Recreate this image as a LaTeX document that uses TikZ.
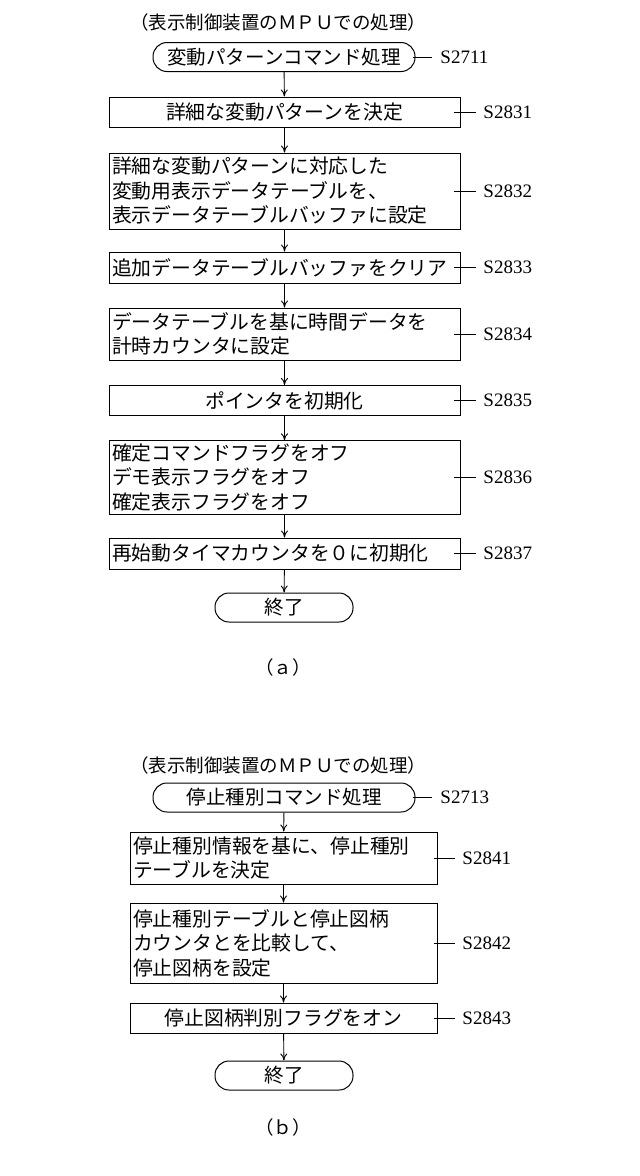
\documentclass[tikz,border=0pt]{standalone}
\usepackage{fontspec}
\setmainfont{Liberation Serif}
\newfontfamily\jfont{Noto Sans CJK JP}
\usetikzlibrary{arrows.meta}
\tikzstyle{terminal} = [rectangle, rounded corners=14pt,
minimum width=262pt,
minimum height=29pt,
inner sep=0pt,
draw=black, line width=1pt,
font=\jfont\fontsize{19.5pt}{24pt}\selectfont]
\tikzstyle{process} = [rectangle,
minimum width=351pt,
text width=345pt,
inner sep=3pt,
align=left,
draw=black, line width=1pt,
font=\jfont\fontsize{19.8pt}{24.5pt}\selectfont]
\tikzstyle{stepname} = [anchor=west, inner sep=0pt, font=\fontsize{19pt}{20pt}\selectfont]
\tikzstyle{caption} = [inner sep=0pt, font=\jfont\fontsize{18.5pt}{20pt}\selectfont]
\tikzstyle{arrow} = [line width=0.9pt, -{To[length=7pt,width=7pt]}]

\begin{document}
\begin{tikzpicture}[x=1pt,y=-1pt, line width=0.9pt]
\useasboundingbox (0,0) rectangle (640,1176);

% (a)
\node (tta) [caption] at (278,22) {（表示制御装置のＭＰＵでの処理）};
\node (sa) [terminal] at (284,57) {変動パターンコマンド処理};
\node (p1) [process, minimum height=30pt, align=center] at (284.5,112) {詳細な変動パターンを決定};
\node (p2) [process, minimum height=76pt] at (284.5,191) {詳細な変動パターンに対応した\\変動用表示データテーブルを、\\表示データテーブルバッファに設定};
\node (p3) [process, minimum height=31pt] at (284.5,267.5) {追加データテーブルバッファをクリア};
\node (p4) [process, minimum height=52pt] at (284.5,334) {データテーブルを基に時間データを\\計時カウンタに設定};
\node (p5) [process, minimum height=30pt, align=center] at (284.5,400.5) {ポインタを初期化};
\node (p6) [process, minimum height=73pt] at (284.5,477.5) {確定コマンドフラグをオフ\\デモ表示フラグをオフ\\確定表示フラグをオフ};
\node (p7) [process, minimum height=31pt] at (284.5,553.5) {再始動タイマカウンタを０に初期化};
\node (ea) [terminal, minimum width=138pt] at (284,607.5) {終了};
\node (capa) [caption] at (283,667) {（ａ）};

\draw[arrow] (sa) -- (p1);
\draw[arrow] (p1) -- (p2);
\draw[arrow] (p2) -- (p3);
\draw[arrow] (p3) -- (p4);
\draw[arrow] (p4) -- (p5);
\draw[arrow] (p5) -- (p6);
\draw[arrow] (p6) -- (p7);
\draw[arrow] (p7) -- (ea);

\node (la) [stepname] at (440,57) {S2711};
\draw ([xshift=-3pt]sa.east) -- ([xshift=-8pt]la.west);
\foreach \n/\s in {p1/S2831, p2/S2832, p3/S2833, p4/S2834, p5/S2835, p6/S2836, p7/S2837} {
  \node (l\n) [stepname] at (483,0 |- \n.east) {\s};
  \draw ([xshift=-7pt]\n.east) -- ([xshift=-7pt]l\n.west);
}

% (b)
\node (ttb) [caption] at (278,765) {（表示制御装置のＭＰＵでの処理）};
\node (sb) [terminal] at (284,797.5) {停止種別コマンド処理};
\node (q1) [process, minimum width=307pt, text width=301pt, minimum height=52pt] at (283.5,858) {停止種別情報を基に、停止種別\\テーブルを決定};
\node (q2) [process, minimum width=307pt, text width=301pt, minimum height=80pt] at (283.5,943) {停止種別テーブルと停止図柄\\カウンタとを比較して、\\停止図柄を設定};
\node (q3) [process, minimum width=307pt, text width=301pt, minimum height=30pt, align=center] at (283.5,1018) {停止図柄判別フラグをオン};
\node (eb) [terminal, minimum width=138pt] at (284,1075.5) {終了};
\node (capb) [caption] at (283,1127) {（ｂ）};

\draw[arrow] (sb) -- (q1);
\draw[arrow] (q1) -- (q2);
\draw[arrow] (q2) -- (q3);
\draw[arrow] (q3) -- (eb);

\node (lb) [stepname] at (440,797.5) {S2713};
\draw ([xshift=-3pt]sb.east) -- ([xshift=-8pt]lb.west);
\foreach \n/\s in {q1/S2841, q2/S2842, q3/S2843} {
  \node (l\n) [stepname] at (462,0 |- \n.east) {\s};
  \draw ([xshift=-4pt]\n.east) -- ([xshift=-7pt]l\n.west);
}

\end{tikzpicture}
\end{document}
